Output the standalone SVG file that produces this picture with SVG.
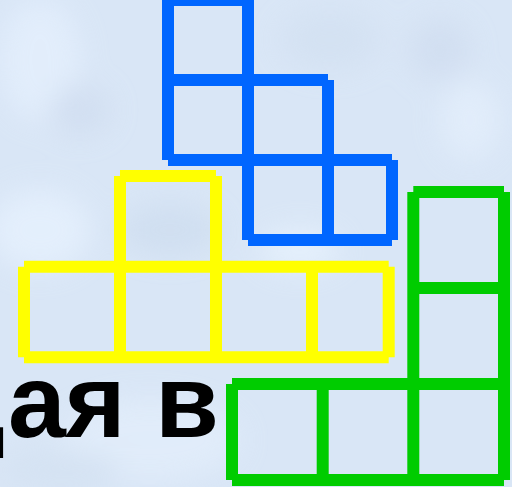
<svg xmlns="http://www.w3.org/2000/svg" width="512" height="487" viewBox="0 0 512 487">
<defs>
<filter id="blur" x="-50%" y="-50%" width="200%" height="200%"><feGaussianBlur stdDeviation="14"/></filter>
<style>
.blue line{stroke:#0066FF;stroke-width:12;stroke-linecap:butt}
.yellow line{stroke:#FFFF00;stroke-width:12;stroke-linecap:butt}
.green line{stroke:#00CC00;stroke-width:12;stroke-linecap:butt}
.label{font-family:"Liberation Sans",Arial,sans-serif;font-weight:bold;font-size:104px;fill:#000}
</style>
</defs>
<g id="background">
<rect x="0" y="0" width="512" height="487" fill="#d9e6f6"/>
<g filter="url(#blur)" opacity="0.7">
<ellipse cx="40" cy="60" rx="40" ry="60" fill="#e6f1fe"/>
<ellipse cx="80" cy="110" rx="30" ry="25" fill="#cfdcef"/>
<ellipse cx="40" cy="230" rx="50" ry="40" fill="#e8f3ff"/>
<ellipse cx="170" cy="230" rx="50" ry="25" fill="#ccdcee"/>
<ellipse cx="440" cy="50" rx="30" ry="30" fill="#cfdcef"/>
<ellipse cx="470" cy="120" rx="30" ry="40" fill="#e5f0fd"/>
<ellipse cx="330" cy="40" rx="50" ry="30" fill="#d2e0f1"/>
<ellipse cx="150" cy="440" rx="90" ry="40" fill="#e4effc"/>
<ellipse cx="60" cy="470" rx="60" ry="20" fill="#d3e1f1"/>
<ellipse cx="300" cy="250" rx="40" ry="20" fill="#eaf5ff"/>
</g>
</g>
<g id="text">
<text class="label" x="-61 8 65 122 155" y="437">дая в</text>
</g>
<g id="connectors"/>
<g id="blue-shape" class="blue">
<line x1="168" y1="0" x2="168" y2="160"/>
<line x1="248" y1="0" x2="248" y2="240"/>
<line x1="328" y1="80" x2="328" y2="240"/>
<line x1="392" y1="160" x2="392" y2="240"/>
<line x1="168" y1="0" x2="248" y2="0"/>
<line x1="168" y1="80" x2="328" y2="80"/>
<line x1="168" y1="160" x2="392" y2="160"/>
<line x1="248" y1="240" x2="392" y2="240"/>
</g>
<g id="yellow-shape" class="yellow">
<line x1="24" y1="266.7" x2="24" y2="357.3"/>
<line x1="120" y1="176" x2="120" y2="357.3"/>
<line x1="216" y1="176" x2="216" y2="357.3"/>
<line x1="312" y1="266.7" x2="312" y2="357.3"/>
<line x1="388.7" y1="266.7" x2="388.7" y2="357.3"/>
<line x1="120" y1="176" x2="216" y2="176"/>
<line x1="24" y1="266.7" x2="388.7" y2="266.7"/>
<line x1="24" y1="357.3" x2="388.7" y2="357.3"/>
</g>
<g id="green-shape" class="green">
<line x1="413.3" y1="192" x2="413.3" y2="480"/>
<line x1="504" y1="192" x2="504" y2="480"/>
<line x1="232" y1="384" x2="232" y2="480"/>
<line x1="322.7" y1="384" x2="322.7" y2="480"/>
<line x1="413.3" y1="192" x2="504" y2="192"/>
<line x1="413.3" y1="288" x2="504" y2="288"/>
<line x1="232" y1="384" x2="504" y2="384"/>
<line x1="232" y1="480" x2="504" y2="480"/>
</g>
</svg>
